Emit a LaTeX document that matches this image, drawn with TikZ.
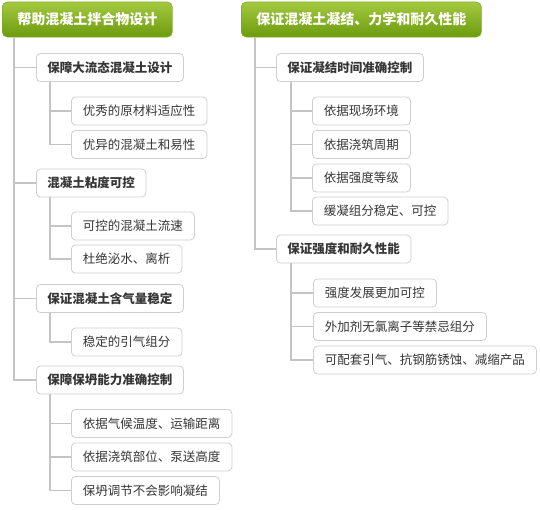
\documentclass[tikz,border=0pt]{standalone}
\usepackage{fontspec}
\usepackage{xcolor}
\usepackage{tikz}
\usetikzlibrary{positioning,calc}
\newfontfamily\cjk{Noto Sans CJK SC}
\definecolor{LeafTop}{HTML}{A4C940}
\definecolor{LeafBottom}{HTML}{6C9B0E}
\definecolor{LeafEdge}{HTML}{7FA824}
\definecolor{BoxEdge}{HTML}{CFCFCF}
\definecolor{LinkGray}{HTML}{C4C4C4}
\definecolor{InkGray}{HTML}{363636}
\newcommand{\topicbox}[3]{%
  \node[rootnode,at={#3}] (#1) {#2};}
\newcommand{\subtopicbox}[3]{%
  \node[headnode,at={#3}] (#1) {#2};}
\newcommand{\detailbox}[3]{%
  \node[itemnode,at={#3}] (#1) {#2};}

\begin{document}
\begin{tikzpicture}[x=1pt,y=-1pt,
  rootnode/.style={anchor=west,draw=LeafEdge,top color=LeafTop,bottom color=LeafBottom,
        rounded corners=5pt,line width=0.6pt,inner xsep=15pt,inner ysep=0pt,
        minimum height=35pt,text=white,font=\cjk\bfseries\fontsize{14}{16}\selectfont},
  headnode/.style={anchor=west,draw=BoxEdge,fill=white,rounded corners=4pt,line width=0.8pt,
        inner xsep=11pt,inner ysep=0pt,minimum height=28pt,text=InkGray,
        font=\cjk\bfseries\fontsize{12.5}{14}\selectfont},
  itemnode/.style={anchor=west,draw=BoxEdge,fill=white,rounded corners=4pt,line width=0.8pt,
        inner xsep=11.5pt,inner ysep=0pt,minimum height=28pt,text=InkGray,
        font=\cjk\fontsize{12.5}{14}\selectfont},
  link/.style={draw=LinkGray,line width=1.2pt}]
  \useasboundingbox (0,0) rectangle (540,509);
  % left branch
  \topicbox{mixdesign}{帮助混凝土拌合物设计}{(2,19.5)}
  \subtopicbox{flowdesign}{保障大流态混凝土设计}{(36,67.5)}
  \detailbox{rawmat}{优秀的原材料适应性}{(71,111)}
  \detailbox{workable}{优异的混凝土和易性}{(71,144.5)}
  \subtopicbox{viscosity}{混凝土粘度可控}{(36,183)}
  \detailbox{flowrate}{可控的混凝土流速}{(71,226)}
  \detailbox{bleeding}{杜绝泌水、离析}{(71,259)}
  \subtopicbox{aircontent}{保证混凝土含气量稳定}{(36,298.5)}
  \detailbox{airagent}{稳定的引气组分}{(71,342)}
  \subtopicbox{slumpkeep}{保障保坍能力准确控制}{(36,380)}
  \detailbox{climate}{依据气候温度、运输距离}{(71,423.5)}
  \detailbox{pumping}{依据浇筑部位、泵送高度}{(71,457)}
  \detailbox{nosetting}{保坍调节不会影响凝结}{(71,490.5)}
  % right branch
  \topicbox{performance}{保证混凝土凝结、力学和耐久性能}{(241,19.5)}
  \subtopicbox{settime}{保证凝结时间准确控制}{(276,67.5)}
  \detailbox{onsite}{依据现场环境}{(312,111)}
  \detailbox{period}{依据浇筑周期}{(312,144.5)}
  \detailbox{grade}{依据强度等级}{(312,178)}
  \detailbox{retarder}{缓凝组分稳定、可控}{(312,211)}
  \subtopicbox{durable}{保证强度和耐久性能}{(276,249)}
  \detailbox{strength}{强度发展更加可控}{(313,293)}
  \detailbox{chloride}{外加剂无氯离子等禁忌组分}{(313,326.5)}
  \detailbox{antirust}{可配套引气、抗钢筋锈蚀、减缩产品}{(313,360)}
  % connectors
  \draw[link] ([xshift=12pt]mixdesign.south west) |- (flowdesign.west);
  \draw[link] ([xshift=12pt]mixdesign.south west) |- (viscosity.west);
  \draw[link] ([xshift=12pt]mixdesign.south west) |- (aircontent.west);
  \draw[link] ([xshift=12pt]mixdesign.south west) |- (slumpkeep.west);
  \draw[link] ([xshift=14pt]flowdesign.south west) |- (rawmat.west);
  \draw[link] ([xshift=14pt]flowdesign.south west) |- (workable.west);
  \draw[link] ([xshift=14pt]viscosity.south west) |- (flowrate.west);
  \draw[link] ([xshift=14pt]viscosity.south west) |- (bleeding.west);
  \draw[link] ([xshift=14pt]aircontent.south west) |- (airagent.west);
  \draw[link] ([xshift=14pt]slumpkeep.south west) |- (climate.west);
  \draw[link] ([xshift=14pt]slumpkeep.south west) |- (pumping.west);
  \draw[link] ([xshift=14pt]slumpkeep.south west) |- (nosetting.west);
  \draw[link] ([xshift=14pt]performance.south west) |- (settime.west);
  \draw[link] ([xshift=14pt]performance.south west) |- (durable.west);
  \draw[link] ([xshift=15pt]settime.south west) |- (onsite.west);
  \draw[link] ([xshift=15pt]settime.south west) |- (period.west);
  \draw[link] ([xshift=15pt]settime.south west) |- (grade.west);
  \draw[link] ([xshift=15pt]settime.south west) |- (retarder.west);
  \draw[link] ([xshift=15pt]durable.south west) |- (strength.west);
  \draw[link] ([xshift=15pt]durable.south west) |- (chloride.west);
  \draw[link] ([xshift=15pt]durable.south west) |- (antirust.west);
\end{tikzpicture}
\end{document}
